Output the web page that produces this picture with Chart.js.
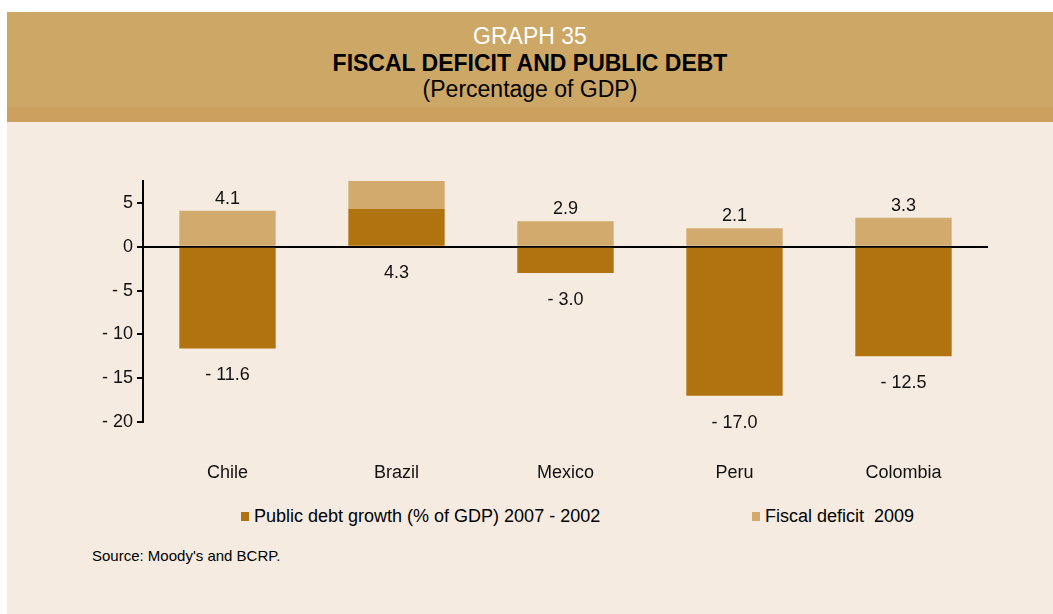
<!DOCTYPE html>
<html>
<head>
<meta charset="utf-8">
<script src="https://cdn.jsdelivr.net/npm/chart.js@4.4.0/dist/chart.umd.min.js"></script>
<style>
  body { margin: 0; width: 1053px; height: 614px; background: #fff; font-family: "Liberation Sans", Arial, sans-serif; overflow: hidden; }
  #page { position: absolute; left: 7px; top: 12px; right: 0; bottom: 0; background: #F5EBE0; }
  #header { position: absolute; left: 0; top: 0; right: 0; height: 110px; background: linear-gradient(to bottom, #CDA766 0px, #CDA766 95px, #CCA160 96px, #CCA160 110px); text-align: center; }
  #header div { position: absolute; left: 0; right: 0; font-size: 23px; line-height: 26px; }
  #chartBox { position: absolute; left: 0; top: 122px; width: 1053px; height: 380px; }
  .legend { position: absolute; top: 505px; font-size: 18px; color: #000; line-height: 22px; white-space: pre; }
  .legend span { display: inline-block; width: 8px; height: 9px; margin-right: 5px; vertical-align: 1px; }
  #source { position: absolute; left: 92px; top: 547px; font-size: 15px; color: #000; }
</style>
</head>
<body>
<div id="page">
  <div id="header">
    <div style="top:11px;color:#fff;">GRAPH 35</div>
    <div style="top:38px;color:#000;font-weight:bold;">FISCAL DEFICIT AND PUBLIC DEBT</div>
    <div style="top:64px;color:#000;">(Percentage of GDP)</div>
  </div>
</div>
<div id="chartBox"><canvas id="myBarChart"></canvas></div>
<div class="legend" id="leg0" style="left:241px;"></div>
<div class="legend" id="leg1" style="left:752px;"></div>
<div id="source">Source: Moody's and BCRP.</div>

<script>
// DATA
var countries = ['Chile', 'Brazil', 'Mexico', 'Peru', 'Colombia'];
var debtGrowth = [-11.6, 4.3, -3.0, -17.0, -12.5];
var fiscalDeficit = [4.1, 3.2, 2.9, 2.1, 3.3];
var fiscalLabelShown = [true, false, true, true, true];
var yTicks = [5, 0, -5, -10, -15, -20];
var seriesNames = ['Public debt growth (% of GDP) 2007 - 2002', 'Fiscal deficit  2009'];
var colors = ['#B1730F', '#D2AA6E'];

var FONT = '"Liberation Sans", Arial, sans-serif';

function fmt(v) {
  return v < 0 ? '- ' + Math.abs(v).toFixed(1) : v.toFixed(1);
}

// value labels on the bars
var valueLabels = {
  id: 'valueLabels',
  afterDatasetsDraw: function(chart) {
    var ctx = chart.ctx;
    ctx.save();
    ctx.font = '18px ' + FONT;
    ctx.fillStyle = '#111';
    ctx.textAlign = 'center';
    ctx.textBaseline = 'middle';
    chart.getDatasetMeta(0).data.forEach(function(bar, i) {
      ctx.fillText(fmt(debtGrowth[i]), bar.x, Math.max(bar.y, bar.base) + 27);
    });
    chart.getDatasetMeta(1).data.forEach(function(bar, i) {
      if (!fiscalLabelShown[i]) return;
      ctx.fillText(fmt(fiscalDeficit[i]), bar.x, Math.min(bar.y, bar.base) - 12);
    });
    ctx.restore();
  }
};

var ctx = document.getElementById('myBarChart').getContext('2d');
var chart = new Chart(ctx, {
  type: 'bar',
  data: {
    labels: countries,
    datasets: [{
      label: seriesNames[0],
      backgroundColor: colors[0],
      data: debtGrowth
    }, {
      label: seriesNames[1],
      backgroundColor: colors[1],
      data: fiscalDeficit
    }]
  },
  options: {
    responsive: true,
    maintainAspectRatio: false,
    animation: false,
    layout: { padding: { top: 59, right: 65, left: 0, bottom: 0 } },
    categoryPercentage: 1.0,
    barPercentage: 0.57,
    plugins: {
      legend: { display: false },
      tooltip: { enabled: false }
    },
    scales: {
      x: {
        stacked: true,
        grid: { display: false, drawTicks: false },
        border: { display: false },
        afterFit: function(scale) { scale.height = 80; },
        ticks: {
          padding: 40,
          color: '#111',
          font: { size: 18, family: FONT }
        }
      },
      y: {
        stacked: true,
        min: -20,
        max: 7.5,
        afterBuildTicks: function(scale) {
          scale.ticks = yTicks.map(function(v) { return { value: v }; });
        },
        afterFit: function(scale) { scale.width = 143; },
        grid: {
          color: function(c) { return c.tick && c.tick.value === 0 ? '#000' : 'rgba(0,0,0,0)'; },
          lineWidth: 2,
          tickColor: '#000',
          tickLength: 6
        },
        border: { display: true, color: '#000', width: 2 },
        ticks: {
          padding: 4,
          color: '#111',
          font: { size: 18, family: FONT },
          callback: function(v) { return v < 0 ? '- ' + Math.abs(v) : '' + v; }
        }
      }
    }
  },
  plugins: [valueLabels]
});

// LEGEND
seriesNames.forEach(function(name, i) {
  document.getElementById('leg' + i).innerHTML =
    '<span style="background:' + colors[i] + '"></span>' + name;
});
</script>
</body>
</html>
